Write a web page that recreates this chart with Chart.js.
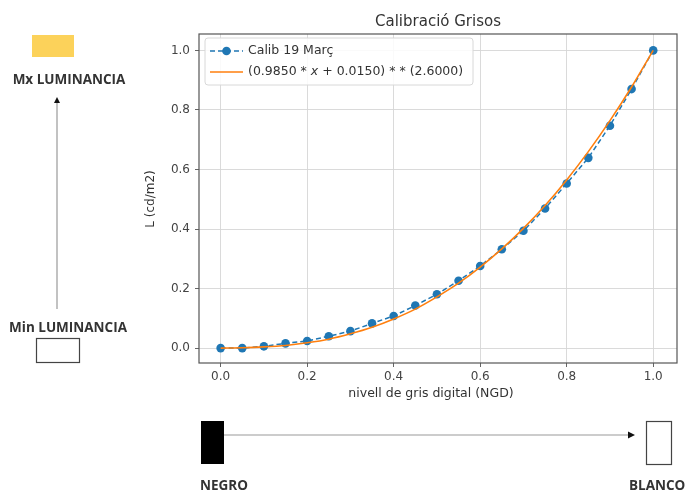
<!DOCTYPE html>
<html>
<head>
<meta charset="utf-8">
<script src="https://cdn.jsdelivr.net/npm/chart.js@4.4.1/dist/chart.umd.min.js"></script>
<style>
  html, body { margin: 0; padding: 0; background: #fff; }
  canvas { display: block; }
</style>
</head>
<body>
<canvas id="grafico" width="687" height="494"></canvas>
<script>
// valors llegits de la gràfica
const ngd = [0, 0.05, 0.1, 0.15, 0.2, 0.25, 0.3, 0.35, 0.4, 0.45, 0.5,
             0.55, 0.6, 0.65, 0.7, 0.75, 0.8, 0.85, 0.9, 0.95, 1.0];
const calib = [0.0, 0.0, 0.006, 0.016, 0.024, 0.04, 0.057, 0.083, 0.108, 0.143, 0.181,
               0.226, 0.276, 0.332, 0.394, 0.469, 0.553, 0.639, 0.747, 0.87, 1.0];
const ajuste = [0.0, 0.001, 0.004, 0.009, 0.018, 0.03, 0.048, 0.07, 0.098, 0.131, 0.172,
                0.218, 0.272, 0.333, 0.402, 0.479, 0.565, 0.66, 0.764, 0.877, 1.0];
const xTicks = [0, 0.2, 0.4, 0.6, 0.8, 1.0];
const yTicks = [0, 0.2, 0.4, 0.6, 0.8, 1.0];

const FONT = "'DejaVu Sans', sans-serif";
const BOLD = "bold 13.5px 'Open Sans', 'Liberation Sans', sans-serif";

function arrowHead(ctx, x, y, dir) {
    ctx.fillStyle = '#111';
    ctx.beginPath();
    if (dir === 'up') {
        ctx.moveTo(x, y); ctx.lineTo(x - 3, y + 6); ctx.lineTo(x + 3, y + 6);
    } else {
        ctx.moveTo(x, y); ctx.lineTo(x - 7, y - 3.5); ctx.lineTo(x - 7, y + 3.5);
    }
    ctx.closePath();
    ctx.fill();
}

const decoracio = {
    id: 'decoracio',
    afterDraw(chart) {
        const ctx = chart.ctx;
        const a = chart.chartArea;
        ctx.save();

        // marc
        ctx.strokeStyle = '#555';
        ctx.lineWidth = 1.2;
        ctx.strokeRect(a.left, a.top, a.right - a.left, a.bottom - a.top);

        // títol i eixos
        ctx.fillStyle = '#333';
        ctx.textAlign = 'center';
        ctx.textBaseline = 'middle';
        ctx.font = '15px ' + FONT;
        ctx.fillText('Calibració Grisos', 438, 22);
        ctx.font = '12.5px ' + FONT;
        ctx.fillText('nivell de gris digital (NGD)', 431, 394);
        ctx.save();
        ctx.translate(151, 199);
        ctx.rotate(-Math.PI / 2);
        ctx.font = '12px ' + FONT;
        ctx.fillText('L (cd/m2)', 0, 0);
        ctx.restore();

        // llegenda
        const lx = a.left + 6, ly = a.top + 4;
        ctx.fillStyle = 'rgba(255,255,255,0.85)';
        ctx.strokeStyle = '#d8d8d8';
        ctx.lineWidth = 1;
        ctx.beginPath();
        ctx.roundRect(lx, ly, 268, 47, 3);
        ctx.fill();
        ctx.stroke();

        ctx.strokeStyle = '#1f77b4';
        ctx.lineWidth = 1.5;
        ctx.setLineDash([5, 3]);
        ctx.beginPath();
        ctx.moveTo(lx + 5, ly + 13); ctx.lineTo(lx + 38, ly + 13);
        ctx.stroke();
        ctx.setLineDash([]);
        ctx.fillStyle = '#1f77b4';
        ctx.beginPath();
        ctx.arc(lx + 21.5, ly + 13, 4.3, 0, Math.PI * 2);
        ctx.fill();

        ctx.strokeStyle = '#ff7f0e';
        ctx.beginPath();
        ctx.moveTo(lx + 5, ly + 34); ctx.lineTo(lx + 38, ly + 34);
        ctx.stroke();

        ctx.fillStyle = '#333';
        ctx.textAlign = 'left';
        ctx.font = '12.5px ' + FONT;
        ctx.fillText('Calib 19 Març', lx + 43, ly + 13);
        let tx = lx + 43;
        const parts = [['(0.9850 * ', ''], ['x', 'italic '], [' + 0.0150) * * (2.6000)', '']];
        parts.forEach(([t, st]) => {
            ctx.font = st + '12.5px ' + FONT;
            ctx.fillText(t, tx, ly + 34);
            tx += ctx.measureText(t).width;
        });

        // anotacions esquerra
        ctx.fillStyle = '#fcd25a';
        ctx.fillRect(32, 35, 42, 22);
        ctx.fillStyle = '#333';
        ctx.font = BOLD;
        ctx.textAlign = 'center';
        ctx.fillText('Mx LUMINANCIA', 69, 80);
        ctx.fillText('Min LUMINANCIA', 68, 328);
        ctx.strokeStyle = '#999';
        ctx.lineWidth = 1.2;
        ctx.beginPath();
        ctx.moveTo(57, 309); ctx.lineTo(57, 103);
        ctx.stroke();
        arrowHead(ctx, 57, 97, 'up');
        ctx.strokeStyle = '#444';
        ctx.lineWidth = 1.2;
        ctx.strokeRect(36.5, 338.5, 43, 24);

        // anotacions inferiors
        ctx.fillStyle = '#000';
        ctx.fillRect(201, 421, 23, 43);
        ctx.strokeStyle = '#999';
        ctx.beginPath();
        ctx.moveTo(224, 435); ctx.lineTo(628, 435);
        ctx.stroke();
        arrowHead(ctx, 635, 435, 'right');
        ctx.strokeStyle = '#444';
        ctx.strokeRect(646.5, 421.5, 25, 43);
        ctx.fillStyle = '#333';
        ctx.textAlign = 'left';
        ctx.fillText('NEGRO', 200, 486);
        ctx.fillText('BLANCO', 629, 486);

        ctx.restore();
    }
};

function eix(min, max, ticks) {
    return {
        type: 'linear',
        min: min,
        max: max,
        afterBuildTicks: scale => { scale.ticks = ticks.map(v => ({ value: v })); },
        grid: { color: '#d6d6d6', lineWidth: 0.9, tickLength: 4, tickColor: '#555', drawTicks: true },
        border: { display: false },
        ticks: {
            color: '#444',
            font: { family: FONT, size: 12 },
            callback: v => v.toFixed(1)
        }
    };
}

const escalaX = eix(-0.05, 1.055, xTicks);
escalaX.ticks.padding = 3;
escalaX.ticks.maxRotation = 0;
escalaX.afterFit = s => { s.height = 40; };
const escalaY = eix(-0.05, 1.055, yTicks);
escalaY.ticks.padding = 5;
escalaY.afterFit = s => { s.width = 79; };

new Chart(document.getElementById('grafico'), {
    type: 'line',
    data: {
        datasets: [{
            label: 'Calib 19 Març',
            data: ngd.map((x, i) => ({ x: x, y: calib[i] })),
            borderColor: '#1f77b4',
            backgroundColor: '#1f77b4',
            borderWidth: 1.5,
            borderDash: [5, 3],
            pointRadius: 4.3,
            pointBorderWidth: 0,
            tension: 0,
            order: 2
        }, {
            label: '(0.9850 * x + 0.0150) * * (2.6000)',
            data: ngd.map((x, i) => ({ x: x, y: ajuste[i] })),
            borderColor: '#ff7f0e',
            backgroundColor: '#ff7f0e',
            borderWidth: 1.6,
            pointRadius: 0,
            cubicInterpolationMode: 'monotone',
            order: 1
        }]
    },
    options: {
        responsive: false,
        animation: false,
        layout: { padding: { left: 120, right: 10, top: 34, bottom: 91 } },
        scales: { x: escalaX, y: escalaY },
        plugins: {
            legend: { display: false },
            title: { display: false },
            tooltip: { enabled: false }
        }
    },
    plugins: [decoracio]
});
</script>
</body>
</html>
